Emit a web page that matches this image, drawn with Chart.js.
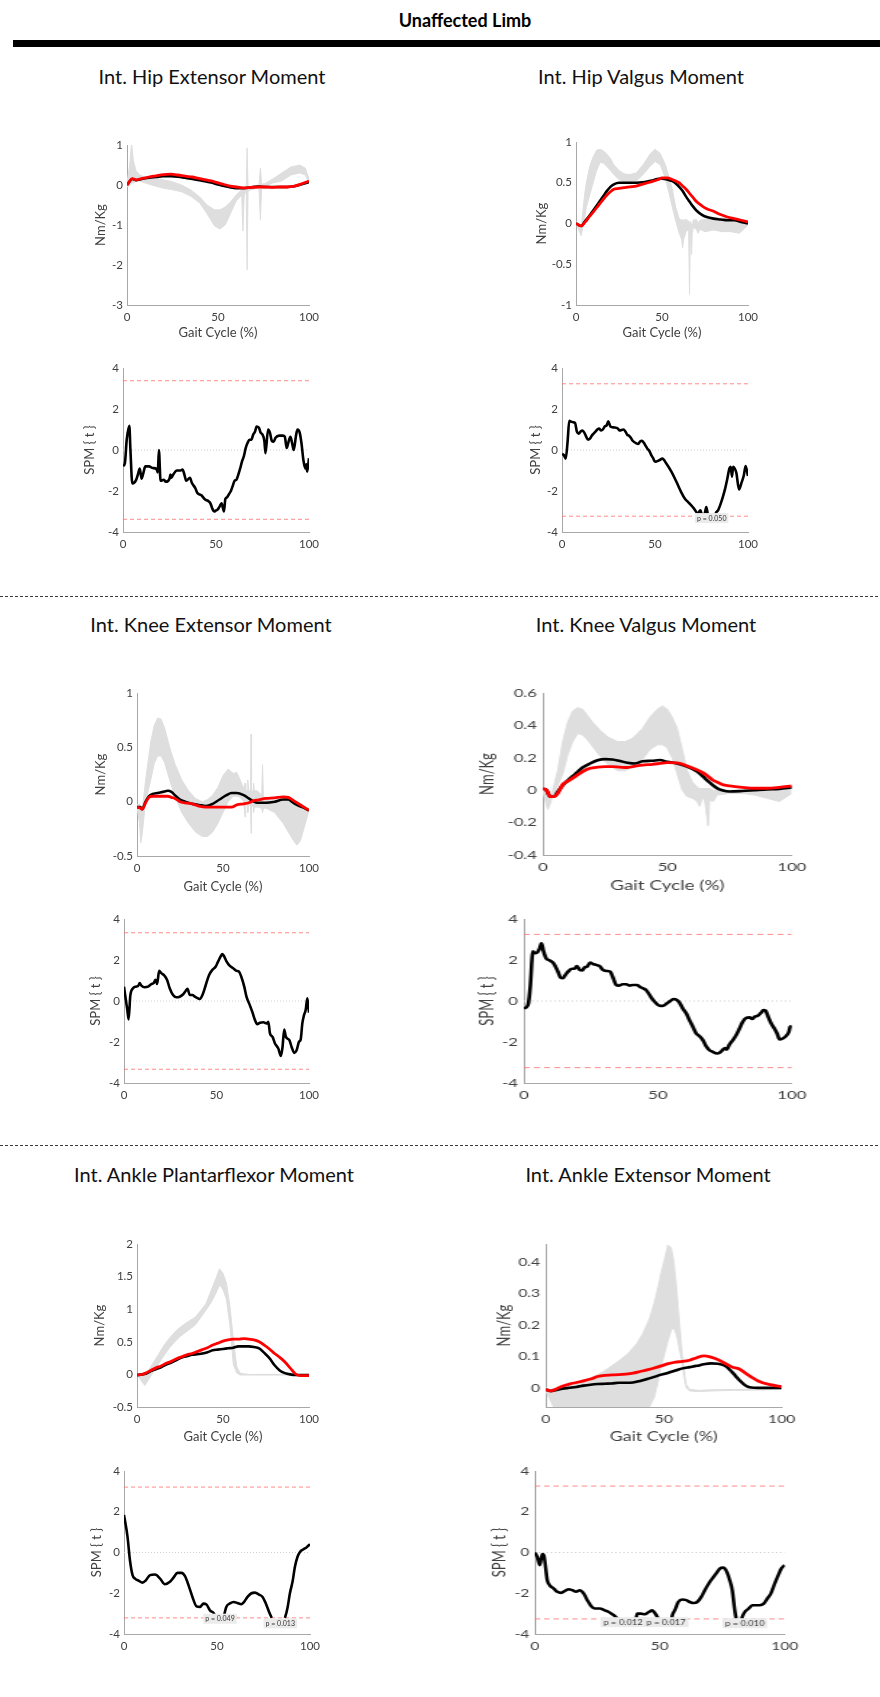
<!DOCTYPE html>
<html>
<head>
<meta charset="utf-8">
<title>Unaffected Limb – joint moments and SPM{t}</title>
<script src="https://cdn.jsdelivr.net/npm/chart.js@4.4.1/dist/chart.umd.min.js"></script>
<style>
  html, body { margin: 0; padding: 0; background: #fff; }
  body { width: 880px; height: 1697px; position: relative; overflow: hidden; font-family: Lato, "Open Sans", sans-serif; }
  .t { position: absolute; white-space: nowrap; transform: translate(-50%, -50%); color: #000; line-height: 1; }
  .head { font-weight: 700; font-size: 18px; }
  .sec { font-size: 20px; font-weight: 400; color: #111; }
  .bar { position: absolute; background: #000; }
  .sep { position: absolute; left: 0; width: 880px; height: 1px;
         background: repeating-linear-gradient(to right, #3a3a3a 0 3px, transparent 3px 5px); }
  .pane { position: absolute; transform-origin: 0 0; }
  .pane canvas { display: block; }
</style>
</head>
<body>

<div class="t head" style="left:465px; top:20px;">Unaffected Limb</div>
<div class="bar" style="left:13px; top:40px; width:867px; height:7px;"></div>

<div class="t sec" style="left:212px; top:76px;">Int. Hip Extensor Moment</div>
<div class="t sec" style="left:641px; top:76px;">Int. Hip Valgus Moment</div>
<div class="sep" style="top:596px;"></div>
<div class="t sec" style="left:211px; top:624px;">Int. Knee Extensor Moment</div>
<div class="t sec" style="left:646px; top:624px;">Int. Knee Valgus Moment</div>
<div class="sep" style="top:1145px;"></div>
<div class="t sec" style="left:214px; top:1174px;">Int. Ankle Plantarflexor Moment</div>
<div class="t sec" style="left:648px; top:1174px;">Int. Ankle Extensor Moment</div>

<script>
// ---------------------------------------------------------------------------
// Data: gait cycle (%) vs internal joint moment (Nm/Kg) and SPM{t} statistic
// Band rows are [gaitCycle, lower, upper]; line rows are [gaitCycle, value].
// ---------------------------------------------------------------------------

const gaitTicks = [0, 50, 100];
const spmTicks = [-4, -2, 0, 2, 4];

// Hip extensor moment
const hipExtTicks = [-3, -2, -1, 0, 1];
const hipExtBand = [[0,-0.05,0.05],[1.5,0,0.5],[2.5,0.05,1.05],[3.5,0.05,0.6],[5,0.1,0.35],[7,0.1,0.25],[10,0.05,0.2],[15,-0.02,0.17],[20,-0.08,0.13],[25,-0.12,0.08],[30,-0.17,0],[35,-0.28,-0.12],[40,-0.45,-0.3],[44,-0.72,-0.5],[48,-1.02,-0.62],[51,-1.1,-0.62],[54,-1.0,-0.55],[57,-0.7,-0.42],[60,-0.4,-0.25],[63,-0.25,-0.12],[63.7,-1.15,-0.15],[64.4,-0.25,-0.08],[65.5,-0.15,-0.05],[66,-2.12,0.92],[66.5,-0.15,-0.05],[68,-0.12,-0.05],[70,-0.1,-0.02],[72.5,-0.08,0],[73.3,-0.87,0.42],[74,-0.06,0.02],[76,-0.03,0.04],[80,0.05,0.15],[85,0.1,0.3],[90,0.25,0.45],[95,0.3,0.5],[98,0.25,0.42],[100,0.05,0.15]];
const hipExtBlack = [[0,0],[3,0.15],[5,0.12],[8,0.15],[12,0.18],[16,0.2],[20,0.22],[24,0.22],[28,0.21],[32,0.18],[36,0.15],[40,0.12],[44,0.08],[48,0.04],[52,-0.01],[56,-0.05],[60,-0.08],[64,-0.08],[68,-0.06],[72,-0.04],[76,-0.05],[80,-0.05],[84,-0.05],[88,-0.05],[92,-0.03],[96,0.02],[100,0.07]];
const hipExtRed = [[0,0],[3,0.16],[5,0.13],[8,0.16],[12,0.2],[16,0.23],[20,0.26],[24,0.27],[28,0.25],[32,0.22],[36,0.2],[40,0.16],[44,0.12],[48,0.08],[52,0.03],[56,-0.02],[60,-0.05],[64,-0.07],[68,-0.06],[72,-0.05],[76,-0.05],[80,-0.06],[84,-0.05],[88,-0.05],[92,-0.03],[96,0.03],[100,0.1]];
const hipExtSpm = [[0,-0.78],[1,-0.65],[2,0.5],[3.4,1.18],[4,0],[5,-1.63],[6,-1.6],[7,-1.47],[8,-1.2],[9,-0.9],[10,-1.4],[11,-1.1],[12,-0.8],[14,-0.8],[16,-0.88],[18,-0.92],[18.7,-1.1],[19.3,0],[20.2,-1.5],[22,-1.45],[23,-1.55],[25,-1.4],[25.5,-1.2],[26,-1.35],[27,-1.2],[29,-1.0],[31,-1.0],[32,-0.95],[33,-1.2],[34,-1.5],[36,-1.35],[37,-1.6],[38.8,-1.85],[40,-2.1],[42,-2.2],[44,-2.4],[46,-2.5],[47,-2.6],[48,-2.85],[49,-3.0],[50,-2.95],[51,-2.9],[52,-2.75],[53,-2.6],[54.3,-3.0],[55,-2.4],[56,-2.3],[57,-2.15],[58,-2.0],[59,-1.75],[60,-1.5],[61,-1.45],[62,-1.2],[63,-0.9],[64,-0.55],[65,-0.3],[66,0.1],[67,0.35],[68,0.5],[69,0.5],[70,0.75],[71,0.9],[71.8,1.15],[73,1.1],[74,0.85],[75,0.75],[76,0.45],[76.6,-0.15],[78,1.0],[79,0.85],[80,0.45],[81,0.4],[82,0.6],[84,0.7],[86,0.7],[87,0.65],[88,0.1],[89,0.4],[90,0.65],[91,0.3],[91.8,0],[93,0.7],[93.8,1.0],[95,0.85],[96,0.3],[97,-0.5],[98,-0.9],[98.5,-0.7],[99,-1.05],[100,-0.4]];
const hipExtThreshold = 3.38;

// Hip valgus moment
const hipValTicks = [-1, -0.5, 0, 0.5, 1];
const hipValBand = [[0,0,0.02],[2,-0.1,0],[3,-0.15,-0.05],[4,-0.05,0.15],[5,0.05,0.35],[6,0.2,0.5],[8,0.35,0.7],[10,0.5,0.82],[12,0.65,0.9],[14,0.75,0.91],[16,0.74,0.89],[18,0.7,0.85],[20,0.65,0.8],[22,0.6,0.72],[25,0.54,0.65],[28,0.51,0.61],[31,0.5,0.6],[35,0.52,0.62],[39,0.6,0.72],[43,0.7,0.85],[46,0.76,0.91],[49,0.72,0.86],[52,0.55,0.72],[54,0.38,0.58],[56,0.2,0.42],[58,0.03,0.2],[60,-0.12,0.06],[61.5,-0.2,0.04],[62,-0.3,0.05],[62.5,-0.2,0.04],[64,-0.1,0.05],[65.5,-0.07,0.03],[66,-0.87,0],[66.5,-0.08,0.03],[67.2,-0.38,-0.02],[67.6,-0.1,0],[68,-0.05,0.04],[70,-0.07,0.05],[71,-0.12,0],[72,-0.07,0.04],[75,-0.1,0.05],[80,-0.08,0.06],[85,-0.1,0.07],[90,-0.1,0.06],[95,-0.12,0.05],[100,-0.02,0.04]];
const hipValBlack = [[0,0],[3,-0.03],[5,0.02],[8,0.1],[10,0.16],[13,0.25],[16,0.34],[18,0.4],[20,0.45],[22,0.48],[25,0.5],[28,0.5],[31,0.5],[35,0.5],[40,0.51],[45,0.53],[48,0.55],[50,0.55],[53,0.54],[56,0.52],[58,0.49],[60,0.45],[62,0.4],[64,0.33],[66,0.27],[68,0.21],[70,0.16],[73,0.11],[76,0.08],[80,0.06],[84,0.05],[88,0.04],[92,0.04],[96,0.02],[100,0]];
const hipValRed = [[0,0],[3,-0.03],[5,0.01],[8,0.09],[10,0.14],[13,0.22],[16,0.3],[18,0.35],[20,0.39],[22,0.42],[25,0.43],[28,0.44],[31,0.45],[35,0.46],[40,0.49],[45,0.52],[48,0.54],[50,0.56],[53,0.56],[56,0.54],[58,0.52],[60,0.5],[62,0.46],[64,0.42],[66,0.37],[68,0.32],[70,0.27],[73,0.22],[76,0.18],[80,0.15],[84,0.11],[88,0.08],[92,0.06],[96,0.04],[100,0.02]];
const hipValSpm = [[0,-0.2],[1,-0.25],[2,-0.42],[3,0.4],[3.9,1.42],[5,1.38],[6,1.35],[7,1.32],[8,0.9],[9,0.8],[10,0.9],[11,0.95],[12,0.85],[13,0.65],[14,0.5],[15,0.55],[16,0.7],[17,0.8],[18,0.9],[19,1.0],[20,1.05],[21,0.95],[22,1.0],[23,1.15],[24,1.2],[24.9,1.4],[26,1.15],[28,1.1],[30,1.05],[31,0.95],[33,1.0],[34,0.92],[35,0.75],[36,0.7],[37,0.6],[38,0.45],[40,0.32],[41,0.3],[42,0.42],[43,0.45],[44,0.35],[45,0.2],[46,0.05],[47,-0.05],[48,-0.25],[49,-0.4],[50,-0.57],[52.5,-0.49],[54,-0.42],[56,-0.65],[58.8,-1.06],[61.5,-1.55],[64,-2.04],[66,-2.37],[67.7,-2.53],[69.5,-2.7],[71,-2.86],[73,-3.1],[74.4,-2.94],[75.4,-3.18],[76.7,-3.1],[77.6,-2.78],[78.5,-3.2],[78.7,-3.23],[80.5,null],[82.3,-3.23],[82.6,-3.1],[83.9,-2.94],[85,-2.7],[86.2,-2.37],[87.5,-1.96],[88.9,-1.39],[90,-0.9],[90.7,-0.82],[91.4,-1.3],[92,-0.82],[92.8,-0.9],[93.7,-1.1],[95.2,-1.93],[96.4,-1.63],[97.8,-1.22],[98.7,-0.78],[100,-1.27]];
const hipValThreshold = 3.23;
const hipValP = [[80.5, -3.32, 'p = 0.050']];

// Knee extensor moment
const kneeExtTicks = [-0.5, 0, 0.5, 1];
const kneeExtBand = [[0,-0.05,-0.03],[1.5,-0.2,-0.02],[2.2,-0.38,-0.05],[3,-0.3,-0.05],[4,-0.15,0.05],[5,0,0.2],[8,0.2,0.55],[10,0.35,0.7],[12,0.42,0.77],[14,0.42,0.76],[16,0.36,0.68],[19,0.2,0.5],[22,0.05,0.35],[26,-0.1,0.2],[30,-0.2,0.1],[34,-0.28,0.03],[38,-0.32,0],[41,-0.32,0.02],[44,-0.28,0.06],[47,-0.2,0.13],[50,-0.1,0.24],[53,0,0.3],[56,0.05,0.26],[58,0.05,0.27],[60,0.04,0.2],[62,0,0.12],[62.8,-0.14,0.17],[63.2,0,0.1],[64,-0.02,0.1],[64.4,-0.1,0.2],[65,-0.03,0.1],[66,-0.03,0.1],[66.3,-0.29,0.62],[66.6,-0.04,0.1],[67.5,-0.04,0.1],[67.8,-0.1,0.17],[68.2,-0.05,0.1],[70,-0.05,0.1],[72.5,-0.06,0.06],[73,-0.1,0.34],[73.5,-0.06,0.04],[75,-0.06,0.02],[80,-0.1,0],[85,-0.2,0.02],[88,-0.28,0.04],[91,-0.36,0],[93,-0.4,-0.03],[95,-0.36,-0.04],[97,-0.25,-0.05],[100,-0.08,-0.07]];
const kneeExtBlack = [[0,-0.05],[2,-0.05],[3,-0.07],[5,0],[7,0.05],[9,0.07],[12,0.08],[15,0.09],[18,0.1],[20,0.09],[22,0.06],[25,0.02],[28,0],[32,-0.02],[36,-0.03],[40,-0.04],[44,-0.02],[48,0.02],[52,0.06],[55,0.08],[58,0.08],[62,0.06],[65,0.03],[68,0],[70,-0.01],[75,-0.01],[80,0],[85,0.02],[88,0.02],[90,0],[93,-0.03],[96,-0.05],[100,-0.08]];
const kneeExtRed = [[0,-0.05],[2,-0.06],[3,-0.07],[5,-0.01],[7,0.04],[9,0.05],[12,0.05],[15,0.05],[18,0.05],[20,0.04],[22,0.03],[25,0],[28,-0.01],[32,-0.02],[36,-0.04],[40,-0.05],[44,-0.05],[48,-0.05],[52,-0.05],[55,-0.05],[58,-0.03],[62,-0.02],[65,-0.01],[68,0.01],[70,0.015],[75,0.03],[80,0.035],[85,0.045],[88,0.04],[90,0.02],[93,-0.01],[96,-0.04],[100,-0.08]];
const kneeExtSpm = [[0,0.7],[1,0.05],[1.8,-0.44],[2.5,-0.9],[3.4,0.25],[4.9,0.62],[6.3,0.7],[7.6,0.73],[8.5,0.87],[9.4,0.75],[11.2,0.67],[13,0.7],[14.8,0.82],[16,0.87],[17.1,1.03],[17.9,0.83],[19,1.47],[20.2,1.36],[22,1.22],[23.3,1.03],[24.7,0.62],[26.5,0.29],[28.3,0.18],[30.1,0.21],[32,0.33],[33.4,0.5],[34.3,0.59],[35.6,0.29],[37,0.29],[38.3,0.21],[40,0.13],[41,0.1],[42.4,0.29],[44.2,0.78],[46,1.27],[47.8,1.52],[49.6,1.68],[50.9,1.93],[52.2,2.17],[53.2,2.29],[54.2,2.17],[55.4,1.93],[57.2,1.71],[59,1.6],[60.8,1.47],[62.1,1.44],[63.5,1.16],[65,0.7],[66.2,0.21],[68,-0.2],[69.5,-0.57],[70.8,-0.93],[72,-1.13],[73.5,-1.06],[75.3,-1.04],[77.1,-1.1],[78,-1.01],[78.9,-1.58],[80.3,-1.75],[81.6,-2.07],[83.4,-2.32],[84.8,-2.68],[85.7,-2.24],[86.6,-1.39],[87.5,-1.75],[89.4,-1.91],[90.6,-2.24],[92,-2.53],[93.3,-2.4],[94.6,-1.99],[95.5,-1.88],[96.4,-1.09],[97.3,-0.69],[98.2,-0.44],[99.1,0.13],[100,-0.57]];
const kneeExtThreshold = 3.33;

// Knee valgus moment
const kneeValTicks = [-0.4, -0.2, 0, 0.2, 0.4, 0.6];
const kneeValBand = [[0,0,0.01],[2,-0.12,0],[3,-0.08,-0.05],[4,-0.04,0],[6,0.03,0.12],[8,0.1,0.3],[10,0.22,0.42],[12,0.3,0.49],[14,0.35,0.51],[16,0.34,0.5],[18,0.31,0.46],[20,0.27,0.42],[23,0.21,0.37],[26,0.16,0.33],[30,0.12,0.3],[33,0.12,0.3],[36,0.14,0.32],[40,0.19,0.38],[43,0.25,0.45],[46,0.28,0.5],[48,0.28,0.52],[50,0.26,0.5],[52,0.2,0.45],[54,0.1,0.38],[56,0,0.25],[58,-0.04,0.12],[60,-0.05,0.05],[62,-0.07,0.02],[63,-0.1,0.01],[64,-0.05,0.01],[65,-0.06,0.01],[66.4,-0.22,0.01],[67,-0.06,0.01],[68.4,-0.07,0],[70,-0.03,0],[75,-0.02,0],[80,-0.02,0],[85,-0.03,0],[90,-0.05,0],[95,-0.07,0],[100,-0.02,0.02]];
const kneeValBlack = [[0,0.01],[1.5,0],[3,-0.04],[4.5,-0.04],[6,-0.01],[8,0.03],[10,0.06],[13,0.1],[16,0.14],[19,0.165],[22,0.185],[25,0.192],[28,0.19],[31,0.18],[34,0.17],[37,0.165],[40,0.178],[44,0.182],[47,0.186],[50,0.175],[54,0.165],[58,0.146],[62,0.115],[64,0.09],[66,0.06],[68,0.035],[70,0.012],[72,0],[75,-0.008],[80,-0.005],[85,0],[90,0.005],[95,0.008],[100,0.017]];
const kneeValRed = [[0,0.01],[1.5,0],[3,-0.04],[4.5,-0.04],[6,-0.02],[8,0.035],[10,0.055],[13,0.085],[16,0.115],[19,0.135],[22,0.142],[25,0.145],[28,0.145],[31,0.142],[34,0.14],[37,0.148],[40,0.155],[44,0.16],[47,0.165],[50,0.17],[54,0.168],[58,0.15],[62,0.125],[64,0.11],[66,0.09],[68,0.065],[70,0.05],[72,0.035],[75,0.027],[80,0.018],[85,0.012],[90,0.012],[95,0.018],[100,0.027]];
const kneeValSpm = [[0,-0.36],[0.9,-0.31],[1.7,-0.11],[2.4,0.7],[3.4,2.42],[4,2.33],[5,2.37],[5.8,2.53],[6.6,2.82],[7.3,2.45],[8.3,2.09],[9.6,1.98],[11.1,1.84],[12.7,1.44],[13.7,1.14],[14.6,1.11],[15.5,1.27],[16.8,1.47],[18,1.57],[18.9,1.57],[19.8,1.71],[20.8,1.52],[21.8,1.49],[22.6,1.63],[23.6,1.68],[24.8,1.88],[25.7,1.81],[27,1.76],[28.2,1.71],[29.5,1.52],[30.7,1.47],[32.2,1.44],[33.2,1.16],[34.5,0.78],[35.4,0.75],[36.9,0.82],[38.2,0.82],[39.4,0.75],[40.7,0.78],[42.2,0.78],[43.2,0.7],[44.4,0.62],[45.6,0.54],[46.5,0.38],[47.5,0.18],[48.8,-0.03],[49.8,-0.16],[50.9,-0.24],[52.1,-0.23],[53.4,-0.11],[54.6,0],[55.8,0.1],[57.1,0.05],[58.1,-0.08],[59.3,-0.36],[60.6,-0.6],[61.8,-0.93],[63.1,-1.26],[64.3,-1.58],[65.5,-1.71],[66.8,-1.91],[68,-2.2],[69.3,-2.4],[70.5,-2.48],[72,-2.56],[73.3,-2.5],[74.3,-2.37],[75.1,-2.3],[75.7,-2.37],[76.7,-2.12],[78,-1.91],[79.2,-1.67],[80.5,-1.34],[81.7,-1.01],[83,-0.82],[84.2,-0.8],[85.2,-0.88],[86.1,-0.77],[87.3,-0.72],[88.6,-0.56],[89.4,-0.44],[90.2,-0.47],[91.2,-0.77],[92.3,-1.09],[93.5,-1.34],[94.5,-1.58],[95.4,-1.88],[96.6,-1.83],[97.9,-1.7],[98.9,-1.5],[99.4,-1.26],[100,-1.22]];
const kneeValThreshold = 3.25;

// Ankle plantarflexor moment
const anklePfTicks = [-0.5, 0, 0.5, 1, 1.5, 2];
const anklePfBand = [[0,0,0],[2,-0.08,-0.03],[4.5,-0.17,0],[7,-0.07,0.08],[10,0.06,0.2],[13,0.18,0.33],[16,0.3,0.46],[19,0.41,0.56],[22,0.5,0.65],[25,0.58,0.72],[28,0.64,0.78],[31,0.7,0.83],[34,0.76,0.88],[37,0.87,0.98],[40,0.98,1.08],[43,1.1,1.28],[46,1.25,1.48],[48,1.37,1.62],[50,1.3,1.55],[52,1.15,1.4],[54,0.75,1.05],[56,0.15,0.55],[58,0.02,0.12],[60,-0.01,0.02],[62,-0.01,0.01],[65,-0.01,0],[100,-0.01,0]];
const anklePfBlack = [[0,-0.01],[3,0],[5,0.01],[8,0.05],[11,0.08],[14,0.11],[17,0.15],[20,0.18],[23,0.22],[26,0.26],[29,0.28],[32,0.3],[35,0.31],[38,0.32],[41,0.34],[44,0.37],[47,0.38],[50,0.39],[53,0.4],[56,0.41],[59,0.43],[62,0.43],[65,0.43],[68,0.42],[71,0.4],[74,0.33],[77,0.25],[80,0.14],[83,0.06],[86,0.02],[89,0],[92,-0.01],[95,-0.01],[100,-0.01]];
const anklePfRed = [[0,-0.01],[3,0],[5,0.02],[8,0.06],[11,0.1],[14,0.13],[17,0.17],[20,0.2],[23,0.24],[26,0.27],[29,0.3],[32,0.32],[35,0.35],[38,0.38],[41,0.41],[44,0.45],[47,0.48],[50,0.51],[53,0.53],[56,0.54],[59,0.54],[62,0.55],[65,0.54],[68,0.53],[71,0.5],[74,0.45],[77,0.39],[80,0.32],[83,0.26],[86,0.19],[89,0.1],[92,0.01],[95,-0.02],[100,-0.02]];
const anklePfSpm = [[0,1.84],[1.9,0.77],[3.2,-0.38],[4.6,-1.11],[5.9,-1.28],[8,-1.39],[9.9,-1.48],[11.8,-1.36],[14,-1.11],[16.7,-1.08],[19.4,-1.28],[22,-1.56],[24.7,-1.44],[26.6,-1.23],[28.8,-1.0],[30.9,-1.0],[32.8,-1.16],[34.9,-1.66],[36.8,-2.18],[39,-2.64],[40.9,-2.67],[42.7,-2.51],[44.4,-2.56],[46.2,-2.84],[48.4,-3.0],[49.3,-3.21],[51,null],[53.5,-3.21],[55,-2.67],[57,-2.5],[59,-2.43],[61,-2.48],[63,-2.54],[64.5,-2.43],[66.4,-2.18],[68.5,-2.0],[70.4,-1.97],[72.6,-2.07],[74.5,-2.18],[76.3,-2.51],[78,-2.92],[79.3,-3.18],[79.5,-3.21],[83,null],[86.4,-3.21],[86.6,-3.18],[88,-2.67],[89.2,-2.0],[90.6,-1.44],[91.9,-0.7],[93.3,-0.21],[94.6,0.03],[96.5,0.16],[98.1,0.25],[100,0.41]];
const anklePfThreshold = 3.21;
const anklePfP = [[51.6, -3.25, 'p = 0.049'], [84, -3.48, 'p = 0.013']];

// Ankle extensor moment
const ankleExtTicks = [0, 0.1, 0.2, 0.3, 0.4];
const ankleExtBand = [[0,-0.01,0],[2,-0.04,-0.005],[4,-0.07,-0.003],[8,-0.07,0.003],[12,-0.07,0.01],[16,-0.07,0.02],[20,-0.07,0.035],[24,-0.07,0.05],[28,-0.07,0.07],[31.4,-0.07,0.088],[35,-0.07,0.11],[38.5,-0.07,0.14],[41,-0.07,0.17],[44,-0.06,0.22],[46,-0.03,0.27],[47.6,0.02,0.32],[49,0.07,0.37],[50.4,0.11,0.41],[51.8,0.15,0.455],[53.2,0.185,0.445],[54.3,0.19,0.4],[55.4,0.17,0.32],[56.5,0.13,0.22],[57.5,0.09,0.13],[59,0.02,0.035],[59.6,0,0.01],[61,-0.01,-0.005],[65,-0.012,-0.008],[70,-0.01,-0.006],[80,-0.008,-0.005],[90,-0.007,-0.005],[100,-0.005,0]];
const ankleExtBlack = [[0,-0.005],[2,-0.01],[4,-0.008],[7,-0.003],[10,0],[13,0.003],[16,0.007],[19,0.01],[22,0.012],[25,0.013],[28,0.014],[31,0.016],[34,0.016],[37,0.017],[40,0.022],[43,0.028],[46,0.035],[49,0.042],[52,0.048],[55,0.055],[58,0.062],[61,0.066],[64,0.07],[67,0.075],[70,0.078],[73,0.077],[76,0.07],[79,0.05],[82,0.025],[85,0.006],[87,0.001],[90,0],[95,0],[100,0]];
const ankleExtRed = [[0,-0.005],[2,-0.01],[4,-0.005],[7,0.005],[10,0.012],[13,0.017],[16,0.022],[19,0.028],[22,0.036],[25,0.04],[28,0.041],[31,0.042],[34,0.044],[37,0.047],[40,0.052],[43,0.057],[46,0.063],[49,0.07],[52,0.077],[55,0.082],[58,0.084],[61,0.088],[64,0.096],[67,0.102],[70,0.098],[73,0.09],[76,0.078],[79,0.066],[82,0.06],[85,0.045],[87,0.035],[90,0.022],[95,0.01],[100,0.004]];
const ankleExtSpm = [[0,0],[1,-0.21],[2,-0.62],[3,-0.08],[3.6,-0.13],[5,-1.36],[6,-1.61],[7.6,-1.77],[9,-1.93],[10.6,-1.98],[12,-1.89],[13.6,-1.8],[15,-1.85],[16.6,-1.93],[18,-1.85],[19.6,-2.02],[21,-2.34],[22.6,-2.64],[24,-2.75],[26,-2.75],[28,-2.84],[29.6,-2.92],[31,-3.03],[32.4,-3.16],[33,-3.26],[37,null],[40.5,-3.26],[41,-3.0],[42.4,-3.0],[44,-3.03],[45.6,-2.92],[47,-2.84],[48,-2.97],[49,-3.16],[49.4,-3.26],[52,null],[54.7,-3.26],[55,-3.08],[56,-2.84],[57.4,-2.43],[59,-2.31],[60.6,-2.34],[62,-2.43],[63.6,-2.48],[65,-2.43],[66.6,-2.18],[68,-1.85],[69.6,-1.52],[71,-1.28],[72.6,-1.03],[74,-0.79],[75.4,-0.74],[76.6,-0.9],[78,-1.36],[79,-1.85],[80,-2.84],[80.6,-3.25],[80.7,-3.26],[82,null],[82.8,-3.26],[83,-3.16],[84,-2.92],[85.6,-2.75],[87,-2.59],[88.6,-2.59],[90,-2.59],[91.6,-2.51],[93,-2.26],[94.4,-2.02],[96,-1.52],[97.4,-1.11],[98.6,-0.79],[100,-0.62]];
const ankleExtThreshold = 3.26;
const ankleExtP = [[35.3, -3.42, 'p = 0.012'], [52.5, -3.42, 'p = 0.017'], [84, -3.47, 'p = 0.010']];

// ---------------------------------------------------------------------------
// Styling
// ---------------------------------------------------------------------------
const INK = '#404040';
const AXIS = '#a8a8a8';
const BAND = '#dedede';
const FONT = 'Lato';
const TICK_SIZE = 11.5;
const TITLE_SIZE = 13;
const TITLE_LH = TITLE_SIZE * 1.2;

Chart.defaults.font.family = FONT;

const xy = rows => rows.map(r => ({ x: r[0], y: r[1] }));
const bandLo = rows => rows.map(r => ({ x: r[0], y: r[1] }));
const bandHi = rows => rows.map(r => ({ x: r[0], y: r[2] }));
const flat = v => [{ x: 0, y: v }, { x: 100, y: v }];

// draws the cluster p-value tags on an SPM panel
const pTagPlugin = {
  id: 'pTags',
  afterDatasetsDraw(chart, args, opts) {
    const tags = opts.tags || [];
    if (!tags.length) return;
    const { ctx, scales: { x, y } } = chart;
    ctx.save();
    ctx.font = '7px ' + FONT;
    ctx.textAlign = 'center';
    ctx.textBaseline = 'middle';
    tags.forEach(([gx, gv, label]) => {
      const px = x.getPixelForValue(gx), py = y.getPixelForValue(gv);
      const w = ctx.measureText(label).width + 4, h = 10;
      ctx.fillStyle = '#ebebeb';
      ctx.fillRect(px - w / 2, py - h / 2, w, h);
      ctx.fillStyle = '#333';
      ctx.fillText(label, px, py + 0.5);
    });
    ctx.restore();
  }
};

function panel(p) {
  const s = p.stretch || 1;
  const W = 64, PT = 12, PR = 16;
  const len = (p.x1 - p.x0) / s;
  const h = p.bot - p.top;
  const H = p.xTitle ? (p.xTitleY - p.bot) + TITLE_LH / 2 : 22;
  const cw = Math.ceil(W + len + PR);
  const ch = Math.ceil(PT + h + H + 1);

  const wrap = document.createElement('div');
  wrap.className = 'pane';
  wrap.style.left = (p.x0 - s * W) + 'px';
  wrap.style.top = (p.top - PT) + 'px';
  wrap.style.transform = 'scaleX(' + s + ')';
  const cv = document.createElement('canvas');
  cv.width = cw; cv.height = ch;
  cv.style.width = cw + 'px'; cv.style.height = ch + 'px';
  wrap.appendChild(cv);
  document.body.appendChild(wrap);

  const datasets = [];
  if (p.band) {
    datasets.push({ data: bandLo(p.band), borderColor: BAND, borderWidth: 1, backgroundColor: BAND,
                    pointRadius: 0, fill: false, order: 10 });
    datasets.push({ data: bandHi(p.band), borderColor: BAND, borderWidth: 1, backgroundColor: BAND,
                    pointRadius: 0, fill: '-1', order: 10 });
  }
  if (p.threshold !== undefined) {
    datasets.push({ data: flat(0), borderColor: '#cfcfcf', borderWidth: 1, borderDash: [1, 2],
                    pointRadius: 0, order: 8 });
    [p.threshold, -p.threshold].forEach(t => datasets.push({
      data: flat(t), borderColor: 'rgba(255,110,110,0.8)', borderWidth: 1, borderDash: [4, 3],
      pointRadius: 0, order: 7 }));
  }
  if (p.black) datasets.push({ data: xy(p.black), borderColor: '#000', borderWidth: 2.6, pointRadius: 0,
                               cubicInterpolationMode: 'monotone', spanGaps: false, order: 2 });
  if (p.red) datasets.push({ data: xy(p.red), borderColor: '#f00', borderWidth: 2.8, pointRadius: 0,
                             cubicInterpolationMode: 'monotone', order: 1 });

  new Chart(cv, {
    type: 'line',
    data: { datasets },
    plugins: [pTagPlugin],
    options: {
      responsive: false,
      animation: false,
      devicePixelRatio: 1,
      events: [],
      layout: { padding: { left: 0, top: PT, right: cw - W - len, bottom: ch - PT - h - H } },
      plugins: { legend: { display: false }, tooltip: { enabled: false }, pTags: { tags: p.tags || [] } },
      scales: {
        x: {
          type: 'linear', min: 0, max: 100,
          afterBuildTicks: sc => { sc.ticks = gaitTicks.map(v => ({ value: v })); },
          afterFit: sc => { sc.height = H; },
          grid: { display: false, drawTicks: false },
          border: { display: true, color: AXIS, width: 1 },
          ticks: { color: INK, font: { size: TICK_SIZE }, padding: 5, maxRotation: 0, autoSkip: false,
                   callback: v => String(v) },
          title: { display: !!p.xTitle, text: p.xTitle || '', color: INK, font: { size: TITLE_SIZE },
                   padding: { top: 0, bottom: 0 } }
        },
        y: {
          type: 'linear', min: p.yMin, max: p.yMax,
          afterBuildTicks: sc => { sc.ticks = p.yTicks.map(v => ({ value: v })); },
          afterFit: sc => { sc.width = W; },
          grid: { display: false, drawTicks: false },
          border: { display: true, color: AXIS, width: 1 },
          ticks: { color: INK, font: { size: TICK_SIZE }, padding: 4, autoSkip: false,
                   callback: v => String(v) },
          title: { display: true, text: p.yTitle, color: INK, font: { size: TITLE_SIZE },
                   padding: { top: W - p.yGap / s - TITLE_LH / 2, bottom: 0 } }
        }
      }
    }
  });
}

const GAIT = 'Gait Cycle (%)';
const NM = 'Nm/Kg';
const SPM = 'SPM { t }';

// Row 1 – hip
panel({ x0: 127, x1: 309, top: 145, bot: 305, yMin: -3, yMax: 1, yTicks: hipExtTicks, yTitle: NM, yGap: 26,
        xTitle: GAIT, xTitleY: 333, band: hipExtBand, black: hipExtBlack, red: hipExtRed });
panel({ x0: 576, x1: 748, top: 142, bot: 305, yMin: -1, yMax: 1, yTicks: hipValTicks, yTitle: NM, yGap: 34,
        xTitle: GAIT, xTitleY: 333, band: hipValBand, black: hipValBlack, red: hipValRed });
panel({ x0: 123, x1: 309, top: 368, bot: 532, yMin: -4, yMax: 4, yTicks: spmTicks, yTitle: SPM, yGap: 33,
        black: hipExtSpm, threshold: hipExtThreshold });
panel({ x0: 562, x1: 748, top: 368, bot: 532, yMin: -4, yMax: 4, yTicks: spmTicks, yTitle: SPM, yGap: 26,
        black: hipValSpm, threshold: hipValThreshold, tags: hipValP });

// Row 2 – knee
panel({ x0: 137, x1: 309, top: 693, bot: 856, yMin: -0.5, yMax: 1, yTicks: kneeExtTicks, yTitle: NM, yGap: 36,
        xTitle: GAIT, xTitleY: 887, band: kneeExtBand, black: kneeExtBlack, red: kneeExtRed });
panel({ x0: 543, x1: 792, top: 693, bot: 855, yMin: -0.4, yMax: 0.6, yTicks: kneeValTicks, yTitle: NM, yGap: 55,
        xTitle: GAIT, xTitleY: 886, stretch: 1.45, band: kneeValBand, black: kneeValBlack, red: kneeValRed });
panel({ x0: 124, x1: 309, top: 919, bot: 1083, yMin: -4, yMax: 4, yTicks: spmTicks, yTitle: SPM, yGap: 28,
        black: kneeExtSpm, threshold: kneeExtThreshold });
panel({ x0: 524, x1: 792, top: 919, bot: 1083, yMin: -4, yMax: 4, yTicks: spmTicks, yTitle: SPM, yGap: 37,
        stretch: 1.45, black: kneeValSpm, threshold: kneeValThreshold });

// Row 3 – ankle
panel({ x0: 137, x1: 309, top: 1244, bot: 1407, yMin: -0.5, yMax: 2, yTicks: anklePfTicks, yTitle: NM, yGap: 37,
        xTitle: GAIT, xTitleY: 1437, band: anklePfBand, black: anklePfBlack, red: anklePfRed });
panel({ x0: 546, x1: 782, top: 1244, bot: 1407, yMin: -0.061, yMax: 0.458, yTicks: ankleExtTicks, yTitle: NM, yGap: 41,
        xTitle: GAIT, xTitleY: 1437, stretch: 1.37, band: ankleExtBand, black: ankleExtBlack, red: ankleExtRed });
panel({ x0: 124, x1: 310, top: 1471, bot: 1634, yMin: -4, yMax: 4, yTicks: spmTicks, yTitle: SPM, yGap: 27,
        black: anklePfSpm, threshold: anklePfThreshold, tags: anklePfP });
panel({ x0: 535, x1: 785, top: 1471, bot: 1634, yMin: -4, yMax: 4, yTicks: spmTicks, yTitle: SPM, yGap: 35,
        stretch: 1.34, black: ankleExtSpm, threshold: ankleExtThreshold, tags: ankleExtP });
</script>
</body>
</html>
